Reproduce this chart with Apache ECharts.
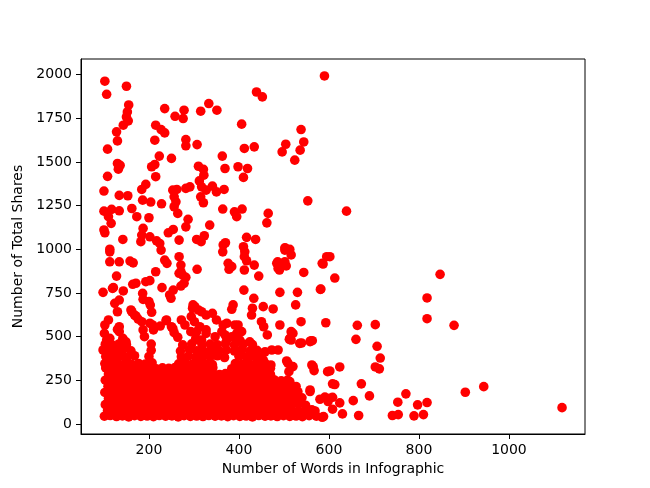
<!DOCTYPE html>
<html><head><meta charset="utf-8">
<script src="https://cdn.jsdelivr.net/npm/echarts@6/dist/echarts.min.js"></script>
<style>html,body{margin:0;padding:0;background:#fff}#c{width:650px;height:488px}</style>
</head><body><div id="c"></div>
<script>
const xTicks = [200, 400, 600, 800, 1000];
const yTicks = [0, 250, 500, 750, 1000, 1250, 1500, 1750, 2000];

const pointsTop = [
[102,1962],[106,1887],[150,1933],[155,1826],[152,1786],[150,1757],[154,1735],[143,1710],[128,1672],[130,1620],
[108,1573],[130,1491],[136,1480],[132,1458],[108,1417],[100,1333],[134,1308],[153,1306],[100,1218],[117,1228],
[134,1220],[110,1186],[116,1148],[100,1110],[102,1094],[142,1056],[162,1233],[173,1186],[200,1180],[186,1281],
[204,1270],[228,1260],[184,1342],[193,1371],[215,1415],[206,1472],[213,1485],[223,1533],[250,1520],[213,1624],
[215,1710],[227,1685],[235,1666],[235,1805],[258,1761],[276,1748],[278,1796],[282,1628],[282,1592],[307,1599],
[315,1790],[333,1834],[351,1796],[310,1475],[321,1457],[322,1424],[312,1391],[317,1357],[327,1338],[341,1361],
[350,1328],[367,1342],[291,1357],[282,1348],[262,1342],[253,1338],[256,1300],[260,1271],[256,1243],[264,1205],
[287,1171],[282,1128],[315,1300],[321,1266],[335,1138],[363,1533],[369,1462],[364,1230],[390,1214],[395,1186],
[407,1230],[398,1472],[419,1462],[410,1411],[406,1716],[412,1577],[434,1586],[439,1900],[452,1872],[465,1205],
[462,1151],[417,1068],[437,1056],[496,1557],[504,1601],[538,1685],[544,1614],[536,1567],[524,1510],[553,1277],
[590,1992],[502,1008],[513,999],[639,1218],
[113,1000],[184,1081],[187,1119],[182,1043],[202,1071],[217,1048],[224,1033],[243,1094],[254,1113],[267,1052],
[306,1056],[316,1043],[323,1077],[365,1024],[370,1037],[410,1014]
];

const pointsMid = [
[113,985],[113,928],[134,928],[158,932],[165,922],[128,846],[121,780],[143,761],[98,753],[124,690],
[130,642],[162,642],[171,618],[176,600],[164,799],[171,805],[186,747],[187,713],[200,700],[203,680],
[206,639],[193,814],[202,820],[215,871],[229,780],[235,938],[240,919],[246,738],[254,766],[267,957],
[271,909],[267,862],[282,839],[278,805],[307,885],[298,681],[310,652],[317,642],[327,623],[341,633],
[294,614],[376,919],[384,900],[378,885],[364,985],[412,957],[417,934],[412,881],[444,846],[411,766],
[433,719],[454,671],[430,662],[428,623],[476,658],[491,753],[486,928],[490,881],[504,1005],[516,967],
[497,919],[505,904],[530,753],[526,681],[544,867],[581,770],[585,919],[595,957],[613,835],[602,957],
[587,915],[847,856],[818,721],[818,602],[227,995],[119,776],[134,709],[160,652],[168,623],[249,719],
[271,871],[275,852],[271,789],[297,662],[413,985],[434,909],[484,919],[487,890],[502,928],[502,995],
[387,681],[384,656],[302,671]
];

const pointsBand = [
[184,585],[187,538],[202,576],[210,538],[239,595],[250,556],[256,522],[272,595],[280,566],[301,585],
[313,556],[327,518],[306,528],[310,480],[350,595],[365,566],[373,576],[391,566],[395,518],[402,480],
[362,528],[373,480],[450,585],[455,556],[463,509],[491,566],[538,585],[513,490],[520,518],[535,461],
[560,476],[593,579],[102,566],[110,595],[130,541],[134,556],[106,480],[113,490],[98,423],[117,423],
[134,528],[101,518],[190,499],[208,566],[225,560],[238,591],[253,547],[264,496],[293,528],[304,490],
[142,490],[149,470],[516,528],[512,484],[327,538],[398,566],[406,528],[384,499],[398,480],[424,470],
[369,509],[347,499],[317,480],[563,476],
[102,345],[117,350],[132,342],[147,348],[162,340],[177,346],[192,343],[207,349],[266,344],[281,350],
[296,341],[311,347],[326,343],[341,339],[392,346],[407,341],[422,348],[437,343],[452,339],[458,347],
[471,337],[509,347],[520,328],[565,328],[506,360],[454,366],
[104,385],[120,380],[136,388],[152,383],[168,390],[200,386],[272,384],[288,389],[304,381],[320,386],
[336,383],[352,390],[368,380],[400,387],[416,383],[432,389],[446,380],
[110,420],[126,416],[142,424],[160,418],[205,421],[270,417],[290,425],[306,419],[322,415],[338,422],
[356,418],[372,424],[390,417],[406,423],[424,416],[440,421],[458,413],[487,423],[473,423],
[103,456],[118,452],[134,459],[150,453],[205,457],[275,452],[295,458],[318,451],[336,457],[352,453],
[370,459],[390,452],[410,457],[430,454],[516,480],[539,463]
];

const pointsBase = [
[101,44],[114,48],[128,42],[141,46],[155,40],[168,47],[182,43],[196,45],[210,41],[223,48],[237,44],[251,46],
[265,40],[278,47],[292,43],[306,45],[320,42],[333,48],[347,44],[361,46],[375,41],[388,47],[402,43],[416,45],
[430,40],[444,48],[458,44],[471,46],[485,42],[499,47],[513,43],[527,45],[541,41],[556,47],[572,44],[588,42],
[108,76],[122,72],[136,79],[149,74],[163,78],[176,73],[190,80],[204,75],[217,72],[231,77],[245,74],[258,80],
[272,73],[286,78],[299,75],[313,72],[327,79],[340,74],[354,77],[368,73],[381,80],[395,75],[409,72],[422,78],
[436,74],[450,79],[463,73],[477,76],[491,80],[504,74],[518,77],[534,72],[549,78],[565,75],
[103,110],[117,106],[131,113],[144,108],[158,112],[172,107],[185,114],[199,109],[213,105],[226,112],[240,108],
[254,113],[267,106],[281,111],[295,109],[308,114],[322,107],[336,112],[349,108],[363,113],[377,106],[390,111],
[404,109],[418,114],[431,107],[445,112],[459,108],[472,113],[486,106],[500,111],[516,109],[532,114],[548,107],
[110,145],[124,141],[138,148],[151,143],[165,147],[179,142],[192,149],[206,144],[220,141],[233,146],[247,143],
[261,148],[274,141],[288,146],[302,144],[315,149],[329,142],[343,147],[356,143],[370,148],[384,141],[397,146],
[411,144],[425,149],[438,142],[452,147],[466,143],[479,148],[494,141],[509,146],[525,144],[540,149],
[102,180],[116,176],[130,183],[144,178],[157,182],[171,177],[185,184],[198,179],[212,176],[226,181],[239,178],
[253,183],[267,176],[280,181],[294,179],[308,184],[321,177],[335,182],[349,178],[362,183],[376,176],[390,181],
[403,179],[417,184],[431,177],[444,182],[458,178],[472,183],[486,176],[501,181],[517,179],[531,184],
[109,215],[123,211],[137,218],[150,213],[164,217],[178,212],[191,219],[205,214],[219,211],[232,216],[246,213],
[260,218],[273,211],[287,216],[301,214],[314,219],[328,212],[342,217],[355,213],[369,218],[383,211],[396,216],
[410,214],[424,219],[437,212],[451,217],[465,213],[480,218],[496,211],[512,216],[527,214],
[103,250],[117,246],[131,253],[145,248],[158,252],[172,247],[186,254],[199,249],[213,246],[227,251],[240,248],
[254,253],[268,246],[281,251],[295,249],[309,254],[322,247],[336,252],[350,248],[363,253],[377,246],[391,251],
[404,249],[418,254],[432,247],[446,252],[462,248],[478,253],[494,246],[508,251],
[110,285],[124,281],[138,288],[152,283],[165,287],[179,282],[193,289],[206,284],[220,281],[234,286],[247,283],
[261,288],[275,281],[288,286],[302,284],[316,289],[329,282],[343,287],[357,283],[370,288],[384,281],[398,286],
[411,284],[425,289],[440,282],[455,287],[470,283],
[104,320],[118,316],[132,323],[146,318],[160,322],[174,317],[188,324],[202,319],[216,316],[230,321],[244,318],
[258,323],[272,316],[286,321],[300,319],[314,324],[328,317],[342,322],[384,316],[398,321],[412,319],[426,324],
[440,317],[455,322],[470,318]
];

const pointsRight = [
[663,564],[703,568],[660,484],[707,444],[714,377],[703,326],[712,315],[624,326],[602,303],[608,229],
[613,225],[672,229],[608,152],[624,120],[608,84],[630,57],[654,133],[690,160],[666,48],[771,172],
[753,124],[797,109],[818,122],[741,48],[754,53],[789,46],[810,53],[903,181],[944,213],[1118,93],
[582,772],[558,471],[562,337],[567,305],[597,299],[580,141],[591,153],[602,147],[562,80],[569,74],
[585,38],[558,185],[878,564],[598,128],[511,299],[450,290],[461,261],[513,242],[558,194]
];

const allPoints = pointsTop.concat(pointsMid, pointsBand, pointsBase, pointsRight);

const font = 'DejaVu Sans';
const plain = v => String(v);
const chart = echarts.init(document.getElementById('c'), null, {renderer: 'canvas'});
chart.setOption({
  animation: false,
  grid: {left: 81, right: 65, top: 59, bottom: 54, show: true, borderColor: '#000', borderWidth: 1, backgroundColor: 'transparent'},
  xAxis: {
    type: 'value', min: 49, max: 1169,
    name: 'Number of Words in Infographic', nameLocation: 'middle', nameGap: 28,
    nameTextStyle: {fontFamily: font, fontSize: 14, color: '#000'},
    axisLine: {show: true, onZero: false, lineStyle: {color: '#000', width: 1}},
    axisTick: {show: true, inside: false, length: 5, lineStyle: {color: '#000', width: 1}, customValues: xTicks},
    axisLabel: {customValues: xTicks, formatter: plain, fontFamily: font, fontSize: 14, color: '#000', margin: 9},
    splitLine: {show: false}
  },
  yAxis: {
    type: 'value', min: -58, max: 2089,
    name: 'Number of Total Shares', nameLocation: 'middle', nameGap: 40, nameRotate: 90,
    nameTextStyle: {fontFamily: font, fontSize: 14, color: '#000'},
    axisLine: {show: true, onZero: false, lineStyle: {color: '#000', width: 1}},
    axisTick: {show: true, inside: false, length: 5, lineStyle: {color: '#000', width: 1}, customValues: yTicks},
    axisLabel: {customValues: yTicks, formatter: plain, fontFamily: font, fontSize: 14, color: '#000', margin: 9},
    splitLine: {show: false}
  },
  series: [{
    type: 'scatter', data: allPoints, symbol: 'circle', symbolSize: 9.6, silent: true,
    itemStyle: {color: '#ff0000', opacity: 1}
  }]
});
</script>
</body></html>
